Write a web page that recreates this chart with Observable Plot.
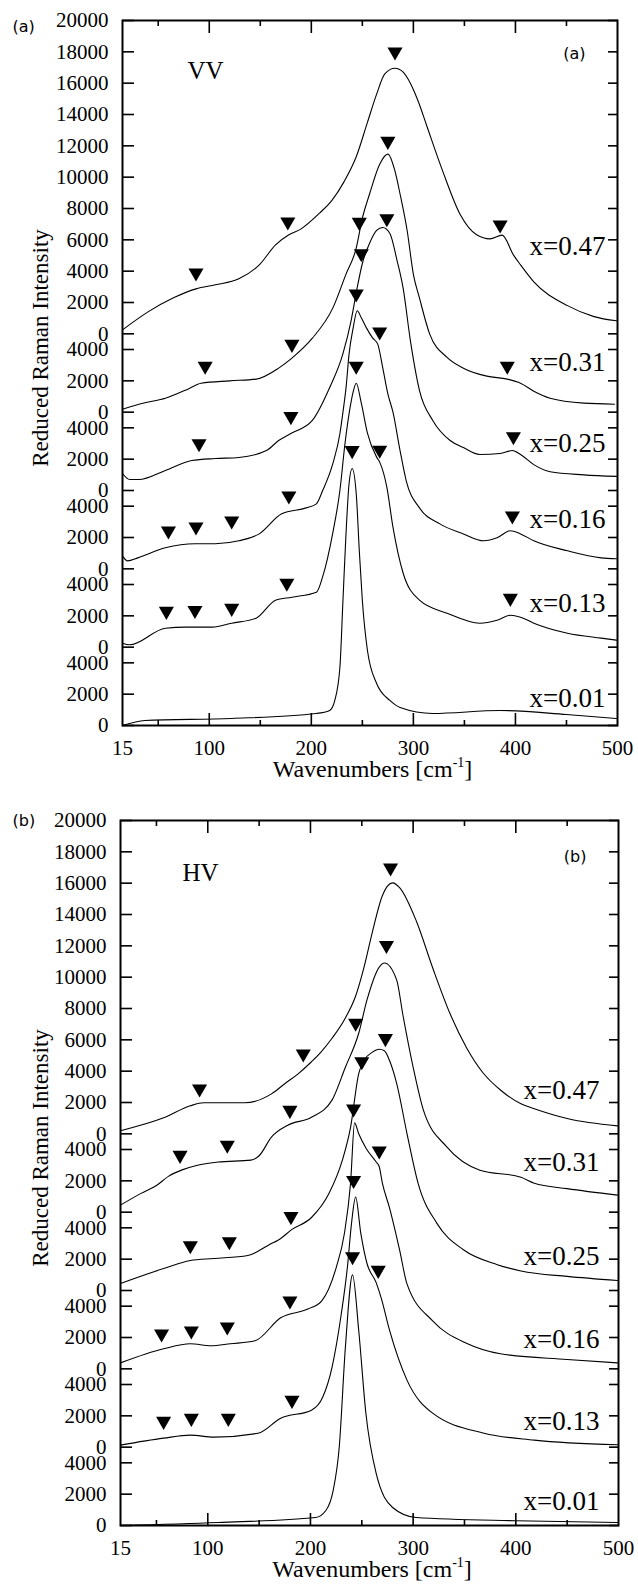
<!DOCTYPE html>
<html><head><meta charset="utf-8">
<script src="https://cdn.jsdelivr.net/npm/d3@7"></script>
<script src="https://cdn.jsdelivr.net/npm/@observablehq/plot@0.6"></script>
<style>
html,body{margin:0;padding:0;background:#fff;}
#chart{width:638px;}
#chart svg{display:block;}
</style></head><body><div id="chart"></div>
<script>
// ---- shared categories / ticks ----
const compositions = ["x=0.01","x=0.13","x=0.16","x=0.25","x=0.31","x=0.47"];
const baselineOffsets = [0,5000,10000,15000,20000,25000];
const lowerTickLabels = [0,2000,4000];
const topTickLabels = [0,2000,4000,6000,8000,10000,12000,14000,16000,18000,20000];
const xTickLabels = [15,100,200,300,400,500];
const xMajorTicks = [100,200,300,400];
const xMinorTicks = [50,150,250,350,450];

// ---- panel (a) VV spectra: [wavenumber, reduced intensity] ----
const vv001 = [[15,0],[37,320],[122,450],[205,770],[218,960],[223,1600],[228,3700],[231,7980],[234,12250],[237,15450],[240,16400],[244,14810],[247,11170],[250,7980],[255,4790],[264,2680],[277,1600],[287,1150],[319,770],[385,960],[450,700],[499,450]];
const vv013 = [[15,255],[22,150],[57,1210],[77,1280],[103,1280],[122,1530],[146,1850],[165,3000],[181,3190],[205,3510],[211,4470],[221,7280],[228,10000],[233,13000],[238,15300],[241,16300],[244,16850],[249,15570],[255,13660],[264,12130],[267,11810],[274,10210],[280,7660],[290,4720],[306,3000],[333,2170],[365,1530],[382,1720],[395,2040],[405,1915],[418,1530],[451,890],[484,575],[499,450]];
const vv016 = [[15,830],[20,510],[30,700],[57,1340],[86,1600],[106,1600],[129,1790],[149,2230],[171,3510],[195,3890],[205,4150],[211,4980],[221,6700],[228,8620],[231,10000],[234,11550],[237,13720],[241,15380],[245,16470],[249,16020],[254,15380],[260,14740],[265,14360],[270,12830],[275,11170],[280,10000],[287,7530],[293,5620],[306,3890],[326,2870],[349,2230],[369,1790],[382,1980],[395,2430],[405,2230],[418,1790],[451,1150],[484,700],[499,640]];
const vv025 = [[15,1085],[22,700],[31,700],[57,1280],[83,1915],[106,2040],[129,2110],[156,2550],[168,3190],[180,3640],[201,4470],[218,6570],[231,8740],[239,10850],[245,12960],[250,14490],[257,15770],[264,16600],[270,16790],[277,16400],[284,14680],[290,12900],[297,9600],[306,6380],[319,4470],[336,3190],[349,2740],[365,2300],[385,2360],[397,2550],[405,2300],[418,1650],[434,1200],[467,1000],[499,900]];
const vv031 = [[15,190],[37,600],[57,890],[80,1500],[92,1850],[120,2000],[146,2110],[168,2810],[181,3450],[201,4720],[221,6640],[234,8810],[244,10470],[250,12380],[257,13910],[267,15830],[275,16470],[282,15380],[287,13910],[294,11550],[300,8800],[306,7280],[316,4980],[333,3500],[349,2810],[372,2300],[392,2110],[405,1850],[418,1340],[434,890],[467,575],[497,510]];
const vv047 = [[15,250],[40,1400],[65,2300],[87,2870],[106,3130],[129,3510],[149,4400],[165,5680],[178,6320],[190,6700],[208,7700],[220,8500],[232,9700],[244,11300],[255,13500],[264,15300],[272,16600],[282,16950],[290,16700],[297,16000],[305,14800],[313,13300],[329,10340],[346,7600],[362,6320],[375,6060],[387,6300],[398,5040],[405,4400],[418,3320],[451,1800],[477,1100],[499,830]];

// ---- panel (a) VV peak markers ----
const vvMark001 = [[240,17430]];
const vvMark013 = [[58,2170],[86,2230],[122,2360],[176,3960],[244,17810],[267,12450],[395,3000]];
const vvMark016 = [[60,2300],[87,2550],[122,2940],[178,4530],[244,17430],[267,15000],[397,3260]];
const vvMark025 = [[90,2870],[180,4600],[249,15000],[274,17230],[398,3320]];
const vvMark031 = [[96,2810],[181,4210],[247,12000],[275,17170],[392,2810]];
const vvMark047 = [[87,3770],[177,7020],[282,17870],[385,6830]];
const vvLabelLevels = [1150,2230,2620,2430,2620,5040];

// ---- panel (b) HV spectra ----
const hv001 = [[15,0],[110,190],[205,510],[215,960],[222,2200],[228,4980],[234,11360],[241,16000],[247,12450],[254,7150],[264,3320],[280,1150],[303,510],[400,300],[499,190]];
const hv013 = [[15,130],[57,575],[83,770],[106,640],[149,890],[171,1850],[201,2360],[212,3200],[221,5100],[230,8500],[236,11500],[240,14300],[244,15960],[249,13660],[255,11740],[264,10500],[269,9500],[277,7470],[294,4280],[319,2170],[369,890],[418,450],[499,150]];
const hv016 = [[15,380],[57,1280],[83,1600],[103,1470],[122,1600],[146,1790],[171,3260],[198,3830],[211,4340],[225,6450],[233,8620],[239,11810],[243,15700],[247,15000],[254,14100],[264,13200],[267,12900],[270,11870],[277,10270],[287,7530],[294,5420],[319,3060],[353,1600],[385,960],[450,600],[499,380]];
const hv025 = [[15,450],[57,1400],[83,1915],[106,2040],[139,2230],[162,3000],[168,3190],[182,3900],[201,4660],[218,6190],[231,8300],[239,10400],[247,13850],[252,14680],[260,15200],[267,15400],[272,15300],[277,14680],[284,13210],[294,10020],[305,6800],[323,4300],[349,2600],[382,1650],[405,1250],[450,900],[499,640]];
const hv031 = [[15,450],[35,1200],[50,1700],[62,2300],[75,2700],[90,3000],[110,3200],[142,3320],[150,3600],[162,4790],[178,5550],[201,6060],[221,7150],[234,9250],[247,11420],[255,13530],[267,15640],[272,15900],[284,14810],[290,12600],[300,9250],[310,6510],[333,4150],[365,2680],[405,2230],[418,1850],[450,1500],[499,1085]];
const hv047 = [[15,200],[57,1020],[83,1790],[96,1980],[136,1980],[162,2550],[175,3200],[188,3830],[201,4600],[210,5200],[221,6100],[234,7400],[244,8800],[252,10600],[260,12800],[270,15200],[280,16020],[287,15700],[303,13600],[319,10600],[336,7660],[352,5500],[368,3900],[385,2800],[405,1915],[418,1600],[451,960],[499,510]];

// ---- panel (b) HV peak markers ----
const hvMark001 = [[241,17040]];
const hvMark013 = [[57,1530],[84,1720],[120,1720],[182,2870],[242,16910],[266,11170]];
const hvMark016 = [[55,2110],[84,2300],[119,2550],[180,4210],[242,16470],[267,13790]];
const hvMark025 = [[83,2740],[121,3000],[181,4600],[250,14490],[273,15960]];
const hvMark031 = [[73,3510],[119,4150],[180,6380],[244,11940],[274,16910]];
const hvMark047 = [[92,2740],[193,4980],[278,16850]];
const hvLabelLevels = [960,1085,1340,1600,2620,2230];

const SERIF = "'Liberation Serif','Times New Roman',serif";
const SANS = "'DejaVu Sans',sans-serif";

function panel(o) {
  const rows = [];
  o.spectra.forEach((pts, k) => pts.forEach(([wn, I]) => rows.push({wn, y: I + baselineOffsets[k], s: compositions[k]})));
  const tri = [];
  o.markers.forEach((pts, k) => pts.forEach(([wn, I]) => tri.push({wn, y: I + baselineOffsets[k]})));
  const ticks = [];
  const tickText = new Map();
  baselineOffsets.forEach((off, k) => {
    const labs = k === baselineOffsets.length - 1 ? topTickLabels : lowerTickLabels;
    labs.forEach(l => { ticks.push(off + l); tickText.set(off + l, String(l)); });
  });
  const lbls = compositions.map((c, k) => ({wn: 500, y: baselineOffsets[k] + o.labelLevels[k], text: c}));
  const blank = () => "";
  const svg = Plot.plot({
    width: 638, height: o.height,
    marginTop: o.marginTop, marginBottom: 60, marginLeft: o.marginLeft, marginRight: o.marginRight,
    x: {domain: [15, 500]},
    y: {domain: [0, 45000]},
    style: {fontFamily: SERIF, fontSize: "21px", background: "white", color: "black", overflow: "visible"},
    marks: [
      Plot.line(rows, {x: "wn", y: "y", z: "s", stroke: "black", strokeWidth: 1.1, curve: "monotone-x"}),
      Plot.dot(tri, {x: "wn", y: "y", symbol: "triangle", r: 5.6, rotate: 180, fill: "black", stroke: null, dy: -2}),
      Plot.frame({stroke: "black", strokeWidth: 2}),
      Plot.axisY(ticks, {anchor: "left", tickSize: 12, dx: 12, tickFormat: blank, label: null, strokeWidth: 1.6}),
      Plot.axisY(ticks, {anchor: "right", tickSize: 10, dx: -10, tickFormat: blank, label: null, strokeWidth: 1.6}),
      Plot.axisY(ticks, {anchor: "left", tickSize: 0, tickPadding: 14, tickFormat: v => tickText.get(v), label: null, fontSize: 21, fontFamily: SERIF}),
      Plot.axisX(xMajorTicks, {anchor: "bottom", tickSize: 12, dy: -12, tickFormat: blank, label: null, strokeWidth: 1.6}),
      Plot.axisX(xMinorTicks, {anchor: "bottom", tickSize: 5, dy: -5, tickFormat: blank, label: null, strokeWidth: 1.6}),
      Plot.axisX(xMajorTicks, {anchor: "top", tickSize: 12, dy: 12, tickFormat: blank, label: null, strokeWidth: 1.6}),
      Plot.axisX(xMinorTicks, {anchor: "top", tickSize: 5, dy: 5, tickFormat: blank, label: null, strokeWidth: 1.6}),
      Plot.axisX(xTickLabels, {anchor: "bottom", tickSize: 0, tickPadding: 15, tickFormat: d => String(d), label: null, fontSize: 21, fontFamily: SERIF}),
      Plot.text(lbls, {x: "wn", y: "y", text: "text", textAnchor: "end", lineAnchor: "bottom", dx: o.labelDx, fontSize: 27, fontFamily: SERIF}),
      Plot.text([o.pol], {text: d => d, frameAnchor: "top-left", dx: o.polDx, dy: o.polDy, textAnchor: "start", lineAnchor: "bottom", fontSize: 25, fontFamily: SERIF}),
      Plot.text([o.tag], {text: d => d, frameAnchor: "top-right", dx: -32, dy: o.innerTagDy, textAnchor: "end", lineAnchor: "middle", fontFamily: SANS, fontSize: 16}),
      Plot.text([o.tag], {text: d => d, frameAnchor: "top-left", dx: 12 - o.marginLeft, dy: o.outerTagDy, textAnchor: "start", lineAnchor: "middle", fontFamily: SANS, fontSize: 16}),
      Plot.text(["Reduced Raman Intensity"], {text: d => d, frameAnchor: "left", rotate: -90, dx: 40 - o.marginLeft, dy: -25, textAnchor: "middle", lineAnchor: "middle", fontSize: 23, fontFamily: SERIF})
    ]
  });
  // x-axis title with superscript
  const cx = o.marginLeft + (638 - o.marginLeft - o.marginRight) / 2 + 3;
  const t = d3.select(svg).append("text")
    .attr("x", cx).attr("y", o.height - 8)
    .attr("text-anchor", "middle")
    .attr("font-family", SERIF).attr("font-size", 24).attr("fill", "black");
  t.append("tspan").text("Wavenumbers [cm");
  t.append("tspan").attr("font-size", 14).attr("dy", -10).text("-1");
  t.append("tspan").attr("dy", 10).text("]");
  return svg;
}

const chart = document.getElementById("chart");
chart.appendChild(panel({
  spectra: [vv001, vv013, vv016, vv025, vv031, vv047],
  markers: [vvMark001, vvMark013, vvMark016, vvMark025, vvMark031, vvMark047],
  labelLevels: vvLabelLevels, labelDx: -12,
  pol: "VV", polDx: 65, polDy: 58, tag: "(a)", innerTagDy: 33, outerTagDy: 6,
  height: 785, marginTop: 20, marginLeft: 122, marginRight: 21
}));
chart.appendChild(panel({
  spectra: [hv001, hv013, hv016, hv025, hv031, hv047],
  markers: [hvMark001, hvMark013, hvMark016, hvMark025, hvMark031, hvMark047],
  labelLevels: hvLabelLevels, labelDx: -19,
  pol: "HV", polDx: 62, polDy: 60, tag: "(b)", innerTagDy: 36, outerTagDy: 0,
  height: 800, marginTop: 35, marginLeft: 120, marginRight: 20
}));
</script></body></html>
